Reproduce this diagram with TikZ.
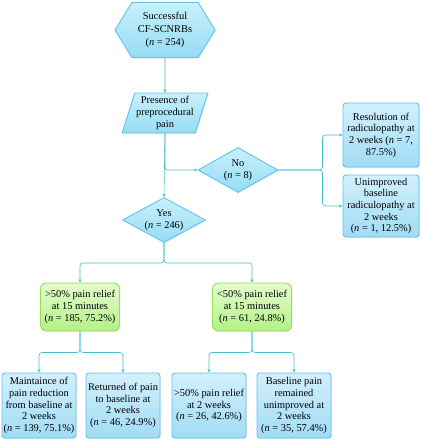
\documentclass[tikz,border=0pt]{standalone}
\usepackage{fontspec}
\setmainfont{Liberation Serif}
\usetikzlibrary{shapes.geometric,shapes.symbols,arrows.meta,shadows}
\definecolor{lnk}{RGB}{70,190,200}
\definecolor{bluebd}{RGB}{95,195,235}
\definecolor{bluetop}{RGB}{210,240,252}
\definecolor{bluebot}{RGB}{160,220,245}
\definecolor{cyantop}{RGB}{200,240,252}
\definecolor{cyanbot}{RGB}{150,220,245}
\definecolor{greenbd}{RGB}{150,222,90}
\definecolor{greentop}{RGB}{228,252,205}
\definecolor{greenbot}{RGB}{180,240,135}
\tikzset{
  base/.style={align=center, inner sep=1pt, font=\fontsize{10.4}{11.7}\selectfont,
    drop shadow={opacity=0.15, shadow xshift=1pt, shadow yshift=-1pt}},
  bluebox/.style={base, draw=bluebd, line width=0.9pt, rounded corners=3pt,
    top color=bluetop, bottom color=bluebot, minimum width=76pt, minimum height=64pt},
  greenbox/.style={base, draw=greenbd, line width=0.9pt, rounded corners=6pt,
    top color=greentop, bottom color=greenbot, minimum width=79pt, minimum height=48pt},
  hexbox/.style={base, shape=signal, signal to=west and east, signal pointer angle=117,
    draw=bluebd, line width=0.9pt, top color=cyantop, bottom color=cyanbot,
    minimum width=100pt, minimum height=55pt, font=\fontsize{10.4}{13.3}\selectfont},
  parbox/.style={base, shape=trapezium, trapezium left angle=70, trapezium right angle=110,
    trapezium stretches=true, draw=bluebd, line width=0.9pt, top color=cyantop,
    bottom color=cyanbot, minimum width=86pt, minimum height=40pt, inner sep=0pt},
  dia/.style={base, shape=diamond, aspect=1.8, inner sep=0pt, draw=bluebd, line width=0.9pt,
    top color=cyantop, bottom color=cyanbot, minimum height=45pt},
  link/.style={draw=lnk, line width=0.6pt, rounded corners=3pt},
  arr/.style={-{Stealth[length=3.5pt,width=3pt]}}
}
\begin{document}
\begin{tikzpicture}[x=1pt,y=-1pt]
\useasboundingbox (0,0) rectangle (421,440);
\node[hexbox] (start) at (165,30) {Successful\\CF-SCNRBs\\(\textit{n} = 254)};
\node[parbox] (pain) at (165,113) {Presence of\\preprocedural\\pain};
\node[dia, minimum width=80pt] (no) at (238,170) {No\\(\textit{n} = 8)};
\node[dia, minimum width=83pt] (yes) at (164,220) {Yes\\(\textit{n} = 246)};
\node[bluebox, minimum height=64pt] (res) at (381,135) {Resolution of\\radiculopathy at\\2 weeks (\textit{n} = 7,\\87.5\%)};
\node[bluebox, minimum height=62pt] (unimp) at (381,206) {Unimproved\\baseline\\radiculopathy at\\2 weeks\\(\textit{n} = 1, 12.5\%)};
\node[greenbox] (g1) at (80,307) {>50\% pain relief\\at 15 minutes\\(\textit{n} = 185, 75.2\%)};
\node[greenbox] (g2) at (252,307) {<50\% pain relief\\at 15 minutes\\(\textit{n} = 61, 24.8\%)};
\node[bluebox, minimum width=74pt, minimum height=65pt] (b1) at (39,405.5) {Maintaince of\\pain reduction\\from baseline at\\2 weeks\\(\textit{n} = 139, 75.1\%)};
\node[bluebox, minimum width=74pt, minimum height=65pt] (b2) at (123,405.5) {Returned of pain\\to baseline at\\2 weeks\\(\textit{n} = 46, 24.9\%)};
\node[bluebox, minimum width=74pt, minimum height=65pt] (b3) at (209,405.5) {>50\% pain relief\\at 2 weeks\\(\textit{n} = 26, 42.6\%)};
\node[bluebox, minimum width=74pt, minimum height=65pt] (b4) at (294,405.5) {Baseline pain\\remained\\unimproved at\\2 weeks\\(\textit{n} = 35, 57.4\%)};
\draw[link,arr] (start) -- (pain);
\draw[link,arr] (pain.south) -- (yes.north);
\draw[link,arr] (pain.south) |- (no.west);
\draw[link,arr] (no.east) -- ++(44,0) |- (res.west);
\draw[link,arr] (no.east) -- ++(44,0) |- (unimp.west);
\draw[link,arr] (yes.south) -- ++(0,20) -| (g1.north);
\draw[link,arr] (yes.south) -- ++(0,20) -| (g2.north);
\draw[link,arr] (g1.south) -- ++(0,21) -| (b1.north);
\draw[link,arr] (g1.south) -- ++(0,21) -| (b2.north);
\draw[link,arr] (g2.south) -- ++(0,21) -| (b3.north);
\draw[link,arr] (g2.south) -- ++(0,21) -| (b4.north);
\end{tikzpicture}
\end{document}
